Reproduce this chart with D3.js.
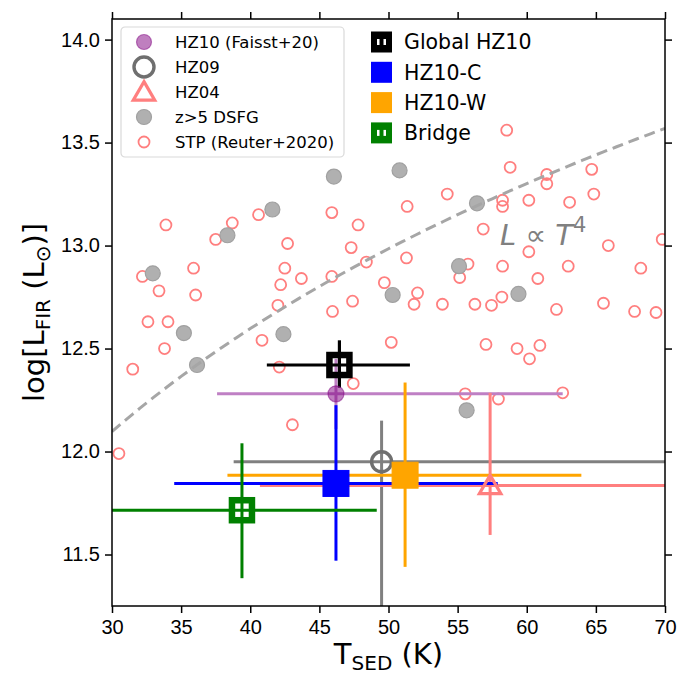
<!DOCTYPE html>
<html lang="en">
<head>
  <meta charset="UTF-8" />
  <title>L_FIR vs T_SED</title>
  <script src="https://d3js.org/d3.v7.min.js"></script>
  <style>
    body { margin: 0; background: #fff; }
    svg { font-family: "DejaVu Sans", sans-serif; }
    .axis path, .axis line { stroke: #000; stroke-width: 1.5px; }
    .axis text { font-size: 20px; fill: #000; }
  </style>
</head>
<body>
  <svg id="chart" width="680" height="679"></svg>

  <script>
    // STP (Reuter+2020): [T_SED, log L_FIR]
    const stp = [
      [33.9, 13.10], [32.2, 12.85], [33.4, 12.78], [35.9, 12.89], [36.05, 12.76],
      [32.6, 12.63], [34.05, 12.63], [33.8, 12.50], [31.5, 12.40], [37.5, 13.03],
      [38.7, 13.11], [40.6, 13.15], [42.7, 13.01], [42.5, 12.89], [42.2, 12.81],
      [43.7, 12.84], [42.0, 12.71], [40.85, 12.54], [42.1, 12.41], [45.9, 13.16],
      [47.8, 13.10], [47.3, 12.99], [48.4, 12.92], [45.9, 12.85], [45.95, 12.68],
      [47.4, 12.73], [49.7, 12.82], [50.2, 12.53], [47.45, 12.33], [58.55, 13.56],
      [58.8, 13.38], [61.45, 13.345], [61.45, 13.30], [64.7, 13.37], [64.85, 13.25],
      [54.25, 13.25], [51.35, 13.19], [58.25, 13.22], [58.25, 13.19], [60.15, 13.22],
      [63.1, 13.21], [56.85, 13.08], [65.9, 13.0], [69.8, 13.03], [51.3, 12.94],
      [60.15, 12.97], [55.75, 12.91], [55.15, 12.845], [58.25, 12.90], [60.8, 12.84],
      [63.0, 12.90], [68.25, 12.89], [52.1, 12.77], [51.85, 12.715], [53.9, 12.715],
      [56.25, 12.715], [57.45, 12.71], [58.2, 12.75], [62.15, 12.69], [65.55, 12.72],
      [67.8, 12.68], [69.35, 12.675], [57.05, 12.52], [59.3, 12.50], [60.95, 12.515],
      [60.2, 12.45], [55.55, 12.28], [57.95, 12.255], [62.6, 12.285], [43.05, 12.13],
      [30.5, 11.99]
    ];

    // z>5 DSFG
    const dsfg = [
      [32.95, 12.865], [35.2, 12.575], [36.15, 12.42], [38.35, 13.05], [41.6, 13.175],
      [42.4, 12.57], [46.05, 13.335], [50.3, 12.76], [50.8, 13.365], [56.4, 13.205],
      [55.1, 12.90], [59.4, 12.765], [55.65, 12.20]
    ];

    // points with error bars: T, L, [T lo, T hi], [L lo, L hi]
    const hz10Faisst = { T: 46.2, L: 12.28, xerr: [8.6, 16.4], yerr: [0.17, 0.17] };
    const hz09 = { T: 49.5, L: 11.95, xerr: [10.7, 25], yerr: [0.8, 0.2] };
    const hz04 = { T: 57.35, L: 11.835, xerr: [16.65, 20], yerr: [0.24, 0.45] };
    const globalHZ10 = { T: 46.45, L: 12.42, xerr: [5.25, 5.1], yerr: [0.11, 0.12] };
    const hz10C = { T: 46.2, L: 11.845, xerr: [11.7, 11.7], yerr: [0.375, 0.38] };
    const hz10W = { T: 51.2, L: 11.885, xerr: [12.85, 12.75], yerr: [0.445, 0.45] };
    const bridge = { T: 39.4, L: 11.715, xerr: [9.75, 9.75], yerr: [0.33, 0.325] };

    const xTicks = [30, 35, 40, 45, 50, 55, 60, 65, 70];
    const yTicks = [11.5, 12.0, 12.5, 13.0, 13.5, 14.0];

    const margin = { top: 19, right: 15, bottom: 73, left: 112 };
    const W = 680, H = 679;
    const width = W - margin.left - margin.right;
    const height = H - margin.top - margin.bottom;

    const svg = d3.select("#chart");
    const g = svg.append("g").attr("transform", `translate(${margin.left},${margin.top})`);

    const x = d3.scaleLinear().domain([30, 70]).range([0, width]);
    const y = d3.scaleLinear().domain([11.25, 14.1]).range([height, 0]);

    g.append("clipPath").attr("id", "clip")
      .append("rect").attr("width", width).attr("height", height);

    const plot = g.append("g").attr("clip-path", "url(#clip)");

    // STP open circles
    plot.selectAll("circle.stp")
      .data(stp)
      .enter()
      .append("circle")
      .attr("cx", d => x(d[0]))
      .attr("cy", d => y(d[1]))
      .attr("r", 5.5)
      .attr("fill", "none")
      .attr("stroke", "#ff7f7f")
      .attr("stroke-width", 1.8);

    // DSFG filled grey
    plot.selectAll("circle.dsfg")
      .data(dsfg)
      .enter()
      .append("circle")
      .attr("cx", d => x(d[0]))
      .attr("cy", d => y(d[1]))
      .attr("r", 7.5)
      .attr("fill", "#b0b0b0")
      .attr("stroke", "#a0a0a0")
      .attr("stroke-width", 1.2);

    // L ∝ T^4 curve
    const c0 = 12.097 - 4 * Math.log10(30);
    const curveT = d3.range(30, 70.01, 0.5);
    plot.append("path")
      .datum(curveT)
      .attr("fill", "none")
      .attr("stroke", "#a6a6a6")
      .attr("stroke-width", 3)
      .attr("stroke-dasharray", "11,6")
      .attr("d", d3.line().x(t => x(t)).y(t => y(c0 + 4 * Math.log10(t))));

    g.append("text")
      .attr("x", x(58.07))
      .attr("y", y(13.005))
      .attr("fill", "#808080")
      .style("font-size", "29px")
      .style("font-style", "italic")
      .text("L \u221D T")
      .append("tspan")
      .attr("dy", -13)
      .style("font-size", "21px")
      .style("font-style", "normal")
      .text("4");

    // error bars
    const bars = [
      [hz10Faisst, "#bf80c4", 3],
      [hz09, "#808080", 3],
      [hz04, "#ff7f7f", 3],
      [globalHZ10, "#000", 3.2],
      [hz10C, "#0000ff", 3],
      [hz10W, "#ffa500", 3],
      [bridge, "#008000", 3]
    ];
    bars.forEach(([d, col, w]) => {
      plot.append("line")
        .attr("x1", x(d.T - d.xerr[0])).attr("x2", x(d.T + d.xerr[1]))
        .attr("y1", y(d.L)).attr("y2", y(d.L))
        .attr("stroke", col).attr("stroke-width", w);
      plot.append("line")
        .attr("x1", x(d.T)).attr("x2", x(d.T))
        .attr("y1", y(d.L - d.yerr[0])).attr("y2", y(d.L + d.yerr[1]))
        .attr("stroke", col).attr("stroke-width", w);
    });

    // markers
    plot.append("circle")
      .attr("cx", x(hz10Faisst.T)).attr("cy", y(hz10Faisst.L)).attr("r", 8)
      .attr("fill", "purple").attr("fill-opacity", 0.5)
      .attr("stroke", "purple").attr("stroke-opacity", 0.5).attr("stroke-width", 1.2);

    plot.append("circle")
      .attr("cx", x(hz09.T)).attr("cy", y(hz09.L)).attr("r", 10)
      .attr("fill", "none").attr("stroke", "#6f6f6f").attr("stroke-width", 3.4);

    const tri = d3.symbol().type(d3.symbolTriangle).size(200);
    plot.append("path")
      .attr("d", tri())
      .attr("transform", `translate(${x(hz04.T)},${y(hz04.L) + 2})`)
      .attr("fill", "none").attr("stroke", "#ff7f7f").attr("stroke-width", 3.2);

    function hollowSquare(d, col) {
      plot.append("rect")
        .attr("x", x(d.T) - 10).attr("y", y(d.L) - 10)
        .attr("width", 20).attr("height", 20)
        .attr("fill", "none").attr("stroke", col).attr("stroke-width", 6.5);
    }
    function filledSquare(d, col) {
      plot.append("rect")
        .attr("x", x(d.T) - 13).attr("y", y(d.L) - 13)
        .attr("width", 26).attr("height", 26)
        .attr("fill", col).attr("stroke", col).attr("stroke-width", 1);
    }
    hollowSquare(globalHZ10, "#000");
    filledSquare(hz10C, "#0000ff");
    filledSquare(hz10W, "#ffa500");
    hollowSquare(bridge, "#008000");

    // axes
    g.append("g").attr("class", "axis")
      .attr("transform", `translate(0,${height})`)
      .call(d3.axisBottom(x).tickValues(xTicks).tickFormat(d3.format("d")).tickSize(7).tickPadding(7));
    g.append("g").attr("class", "axis")
      .call(d3.axisTop(x).tickValues(xTicks).tickFormat("").tickSize(7));
    g.append("g").attr("class", "axis")
      .call(d3.axisLeft(y).tickValues(yTicks).tickFormat(d3.format(".1f")).tickSize(7).tickPadding(5));
    g.append("g").attr("class", "axis")
      .attr("transform", `translate(${width},0)`)
      .call(d3.axisRight(y).tickValues(yTicks).tickFormat("").tickSize(7));
    g.selectAll(".axis path.domain").attr("d", null);
    g.append("rect").attr("width", width).attr("height", height)
      .attr("fill", "none").attr("stroke", "#000").attr("stroke-width", 1.5);

    // axis titles
    const xl = svg.append("text")
      .attr("x", margin.left + width / 2)
      .attr("y", 664)
      .attr("text-anchor", "middle")
      .style("font-size", "29px");
    xl.append("tspan").text("T");
    xl.append("tspan").attr("dy", 6).style("font-size", "20px").text("SED");
    xl.append("tspan").attr("dy", -6).text(" (K)");

    const yl = svg.append("text")
      .attr("transform", `translate(44,${margin.top + height / 2}) rotate(-90)`)
      .attr("text-anchor", "middle")
      .style("font-size", "29px");
    yl.append("tspan").text("log[L");
    yl.append("tspan").attr("dy", 6).style("font-size", "20px").text("FIR");
    yl.append("tspan").attr("dy", -6).text(" (L");
    yl.append("tspan").attr("dy", 6).style("font-size", "20px").text("\u2299");
    yl.append("tspan").attr("dy", -6).text(")]");

    // legend 1 (framed)
    const lg1 = g.append("g").attr("transform", "translate(9,8)");
    lg1.append("rect")
      .attr("width", 223).attr("height", 130).attr("rx", 4)
      .attr("fill", "#fff").attr("fill-opacity", 0.8)
      .attr("stroke", "#d9d9d9").attr("stroke-width", 1.2);
    const lg1Items = ["HZ10 (Faisst+20)", "HZ09", "HZ04", "z>5 DSFG", "STP (Reuter+2020)"];
    const lgY = i => 15 + i * 25;
    lg1.selectAll("text")
      .data(lg1Items)
      .enter()
      .append("text")
      .attr("x", 54)
      .attr("y", (d, i) => lgY(i))
      .attr("dy", "0.36em")
      .style("font-size", "16.5px")
      .text(d => d);
    lg1.append("circle").attr("cx", 23).attr("cy", lgY(0)).attr("r", 7.5)
      .attr("fill", "purple").attr("fill-opacity", 0.5)
      .attr("stroke", "purple").attr("stroke-opacity", 0.5).attr("stroke-width", 1.2);
    lg1.append("circle").attr("cx", 23).attr("cy", lgY(1)).attr("r", 10)
      .attr("fill", "none").attr("stroke", "#6f6f6f").attr("stroke-width", 3.4);
    lg1.append("path").attr("d", tri())
      .attr("transform", `translate(23,${lgY(2) + 2})`)
      .attr("fill", "none").attr("stroke", "#ff7f7f").attr("stroke-width", 3.2);
    lg1.append("circle").attr("cx", 23).attr("cy", lgY(3)).attr("r", 7.5)
      .attr("fill", "#b0b0b0").attr("stroke", "#a0a0a0").attr("stroke-width", 1.2);
    lg1.append("circle").attr("cx", 23).attr("cy", lgY(4)).attr("r", 5.5)
      .attr("fill", "none").attr("stroke", "#ff7f7f").attr("stroke-width", 1.8);

    // legend 2 (no frame)
    const lg2 = g.append("g").attr("transform", "translate(259,0)");
    const lg2Items = [["Global HZ10", "#000", true], ["HZ10-C", "#0000ff", false],
                      ["HZ10-W", "#ffa500", false], ["Bridge", "#008000", true]];
    const lg2Y = i => 23 + i * 30.3;
    lg2Items.forEach(([name, col, hollow], i) => {
      lg2.append("rect")
        .attr("x", 0).attr("y", lg2Y(i) - 10.5)
        .attr("width", 21).attr("height", 21).attr("fill", col);
      if (hollow) {
        [-4.5, 2].forEach(dx => {
          lg2.append("rect")
            .attr("x", 10.5 + dx).attr("y", lg2Y(i) - 3)
            .attr("width", 2.5).attr("height", 6).attr("fill", "#fff");
        });
      }
      lg2.append("text")
        .attr("x", 33).attr("y", lg2Y(i)).attr("dy", "0.36em")
        .style("font-size", "20.5px")
        .text(name);
    });
  </script>
</body>
</html>
